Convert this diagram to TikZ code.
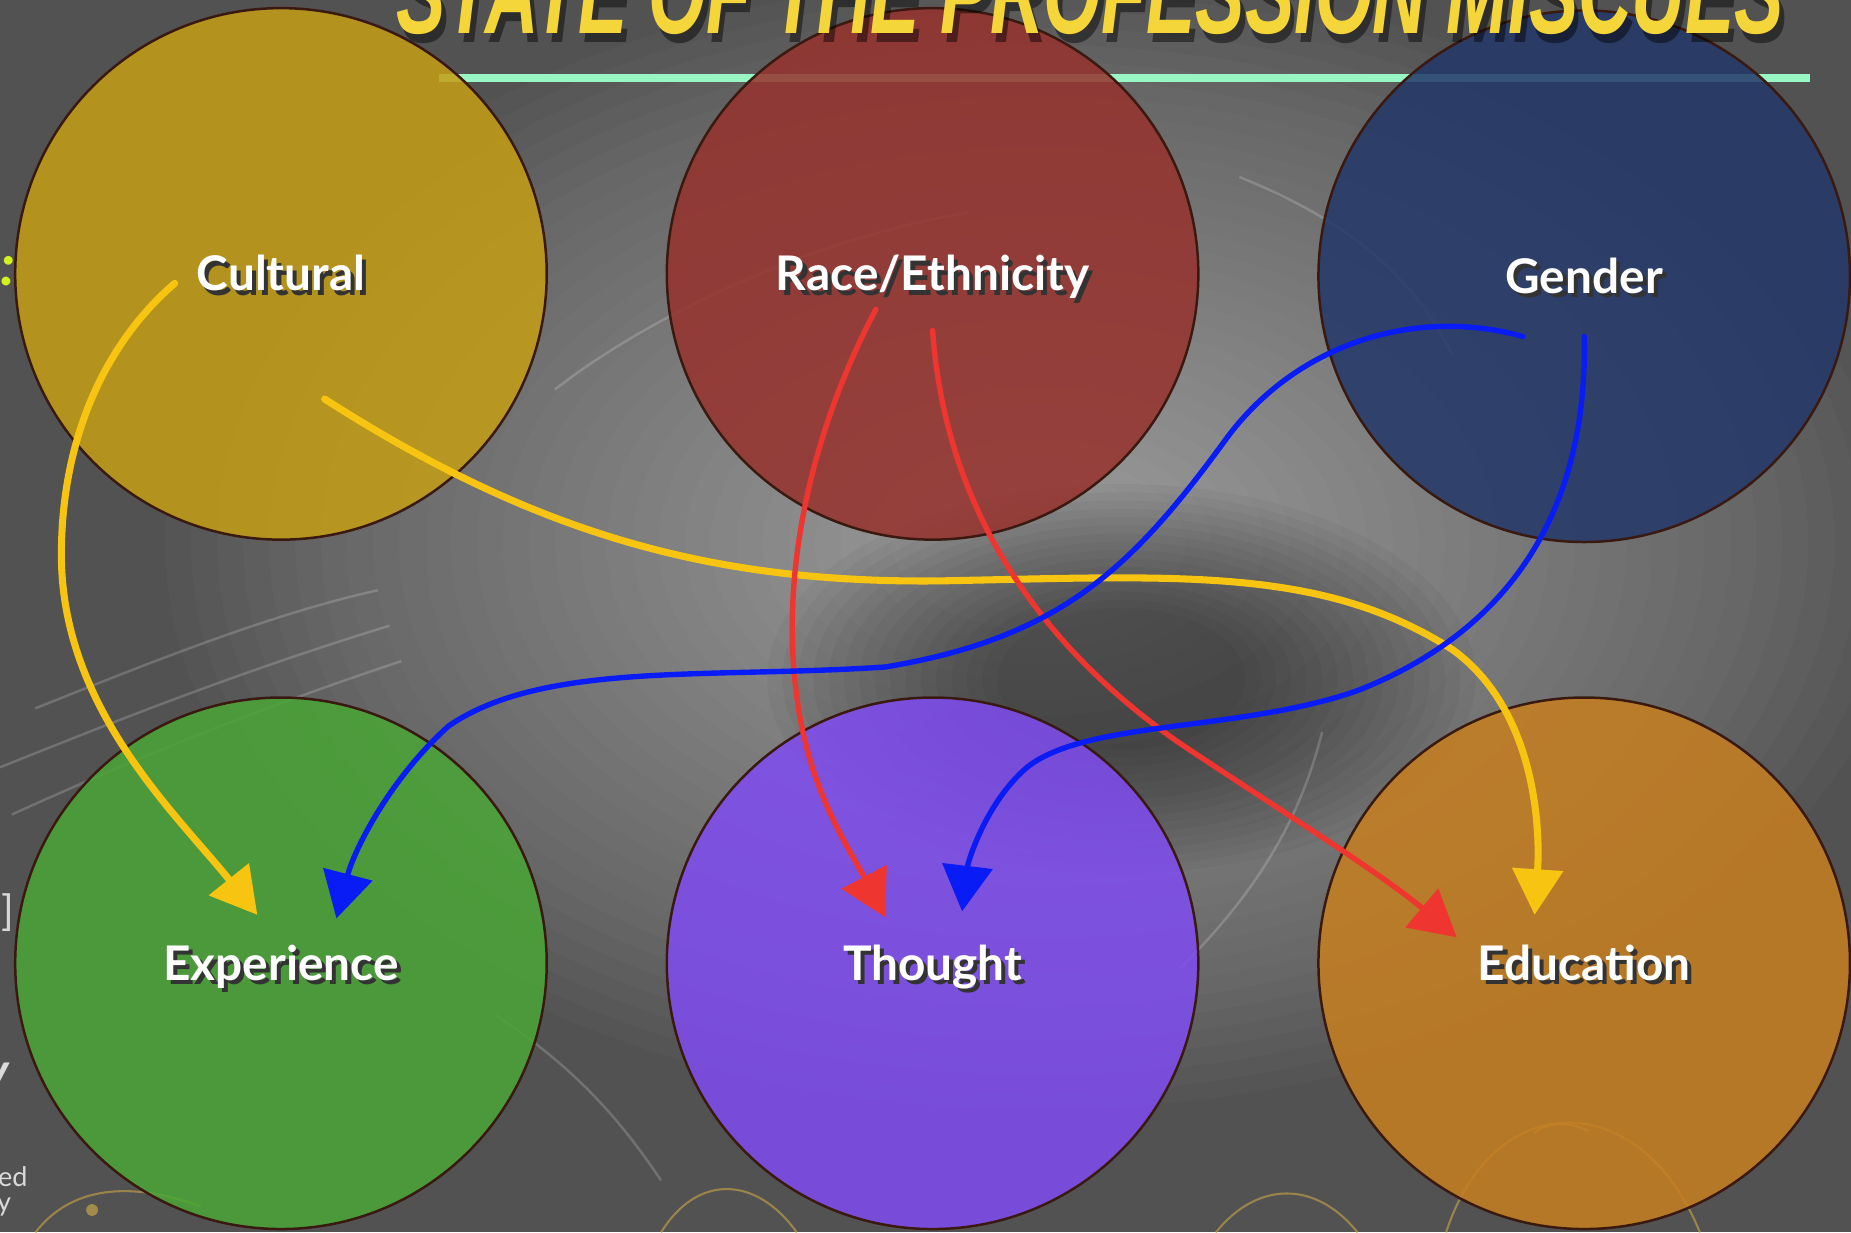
\documentclass[tikz,border=0pt]{standalone}
\usepackage{fontspec}
\setmainfont{Lato}
\newfontfamily\titlefont{Liberation Sans}
\usetikzlibrary{arrows.meta,calc}
\definecolor{bgdark}{HTML}{525252}
\definecolor{cyellow}{HTML}{C49E14}
\definecolor{cred}{HTML}{97322E}
\definecolor{cblue}{HTML}{233769}
\definecolor{cgreen}{HTML}{4AA636}
\definecolor{cpurple}{HTML}{7F4CF1}
\definecolor{corange}{HTML}{C77F20}
\definecolor{cborder}{HTML}{3A1A10}
\definecolor{ayellow}{HTML}{F7C411}
\definecolor{ared}{HTML}{EE3530}
\definecolor{ablue}{HTML}{0A1CF5}
\definecolor{tyellow}{HTML}{F5D63A}
\definecolor{mint}{HTML}{98F5C4}
\definecolor{gold}{HTML}{B89A4A}
\definecolor{fraglime}{HTML}{D2F21E}
\newcommand\sdtext[1]{\raisebox{0pt}[8.2pt][0pt]{\rlap{\kern1pt\raisebox{-1.1pt}{\textcolor{black!80}{#1}}}#1}}
\begin{document}
\begin{tikzpicture}[x=0.01cm,y=-0.01cm,
  bub/.style={circle, draw=cborder, line width=0.6pt, minimum size=4.5cm, inner sep=0pt,
    fill opacity=0.85, text opacity=1, text=white, font=\bfseries\fontsize{11.5}{13}\selectfont},
  conn/.style={line width=1.3pt, line cap=round, -{Triangle[length=11pt,width=12pt]}},
  yconn/.style={conn, draw=ayellow, line width=1.7pt},
  rconn/.style={conn, draw=ared},
  bconn/.style={conn, draw=ablue},
  goldline/.style={draw=gold, line width=0.5pt, opacity=0.7},
  streak/.style={draw=white, line width=0.6pt, opacity=0.18},
  frag/.style={inner sep=0pt, text=white!85!black}]
\useasboundingbox (0,0) rectangle (1568,1044);
\clip (0,0) rectangle (1568,1044);
% background
\fill[bgdark] (0,0) rectangle (1568,1044);
\foreach \i in {0,...,29}
  \fill[white, opacity=0.018] (880,460) ellipse ({740-22*\i} and {480-14.5*\i});
\foreach \i in {0,...,15}
  \fill[black, opacity=0.035] (950,575) ellipse ({300-13*\i} and {165-7*\i});
% streaks
\draw[streak] (0,650) .. controls (100,610) and (200,570) .. (330,530);
\draw[streak] (10,690) .. controls (120,640) and (220,600) .. (340,560);
\draw[streak] (30,600) .. controls (130,560) and (230,520) .. (320,500);
\draw[streak] (470,330) .. controls (560,260) and (700,200) .. (820,180);
\draw[streak] (1050,150) .. controls (1150,190) and (1200,240) .. (1230,300);
\draw[streak] (420,860) .. controls (480,900) and (520,940) .. (560,1000);
\draw[streak] (1000,820) .. controls (1060,760) and (1100,700) .. (1120,620);
% gold decoration
\draw[goldline] (30,1044) .. controls (60,1005) and (110,1000) .. (170,1022);
\fill[gold, opacity=0.8] (78,1025) circle (5);
\draw[goldline] (560,1044) .. controls (590,995) and (640,995) .. (675,1044);
\draw[goldline] (1030,1044) .. controls (1065,1000) and (1115,1000) .. (1150,1044);
\draw[goldline] (1225,1044) .. controls (1265,920) and (1390,920) .. (1440,1044);
\draw[goldline] (1300,960) .. controls (1310,950) and (1330,950) .. (1345,958);
% mint rule
\draw[mint, line width=2pt] (372,66) -- (1533,66);
% circles
\node[bub, fill=cyellow] (cultural)   at (238,232) {\sdtext{Cultural}};
\node[bub, fill=cred]    (race)       at (790,232) {\sdtext{Race/Ethnicity}};
\node[bub, fill=cblue]   (gender)     at (1342,234) {\sdtext{Gender}};
\node[bub, fill=cgreen]  (experience) at (238,816) {\sdtext{Experience}};
\node[bub, fill=cpurple] (thought)    at (790,816) {\sdtext{Thought}};
\node[bub, fill=corange] (education)  at (1342,816) {\sdtext{Education}};
% title
\node[anchor=base west, inner sep=0pt, text=black, opacity=0.45] (titleshadow) at (339,36)
  {\resizebox{11.75cm}{0.7cm}{\titlefont\bfseries\itshape STATE OF THE PROFESSION MISCUES}};
\node[anchor=base west, inner sep=0pt, text=tyellow] (title) at (335,28)
  {\resizebox{11.75cm}{0.7cm}{\titlefont\bfseries\itshape STATE OF THE PROFESSION MISCUES}};
% left fragments
\node[frag, anchor=base east, text=fraglime, font=\bfseries\itshape\fontsize{14}{14}\selectfont] (fragA) at (14,242) {:};
\node[frag, anchor=base east, font=\fontsize{10}{10}\selectfont] (fragB) at (13,784) {1]};
\node[frag, anchor=base east, font=\bfseries\itshape\fontsize{12}{12}\selectfont] (fragC) at (8,922) {y};
\node[frag, anchor=base east, font=\fontsize{6.5}{6.5}\selectfont] (fragD) at (24,1005) {ved};
\node[frag, anchor=base east, font=\fontsize{6.5}{6.5}\selectfont] (fragE) at (10,1026) {y};
% connector endpoints
\coordinate (y1s) at (148,240); \coordinate (y1m) at (52,470);  \coordinate (y1e) at (218,775);
\coordinate (y2s) at (275,338); \coordinate (y2m) at (800,492); \coordinate (y2n) at (1230,550); \coordinate (y2e) at (1300,775);
\coordinate (r1s) at (742,262); \coordinate (r1m) at (675,590); \coordinate (r1e) at (750,777);
\coordinate (r2s) at (790,280); \coordinate (r2m) at (1000,630); \coordinate (r2e) at (1234,794);
\coordinate (b1s) at (1290,285); \coordinate (b1m) at (1040,370); \coordinate (b1n) at (750,565); \coordinate (b1o) at (380,615); \coordinate (b1e) at (285,778);
\coordinate (b2s) at (1342,285); \coordinate (b2m) at (1150,585); \coordinate (b2n) at (870,650); \coordinate (b2e) at (815,772);
% connectors
\draw[yconn] (y1s) .. controls (90,290) and (52,370) .. (y1m) .. controls (52,600) and (150,690) .. (y1e);
\draw[yconn] (y2s) .. controls (450,450) and (600,495) .. (y2m) .. controls (1000,488) and (1120,480) .. (y2n) .. controls (1300,600) and (1305,700) .. (y2e);
\draw[rconn] (r1s) .. controls (690,360) and (660,480) .. (r1m) .. controls (685,670) and (720,720) .. (r1e);
\draw[rconn] (r2s) .. controls (800,420) and (870,540) .. (r2m) .. controls (1090,690) and (1170,740) .. (r2e);
\draw[bconn] (b1s) .. controls (1200,260) and (1100,290) .. (b1m) .. controls (960,480) and (900,540) .. (b1n) .. controls (600,575) and (460,560) .. (b1o) .. controls (330,660) and (300,720) .. (b1e);
\draw[bconn] (b2s) .. controls (1345,420) and (1290,530) .. (b2m) .. controls (1050,620) and (920,610) .. (b2n) .. controls (835,680) and (820,730) .. (b2e);
\end{tikzpicture}
\end{document}
